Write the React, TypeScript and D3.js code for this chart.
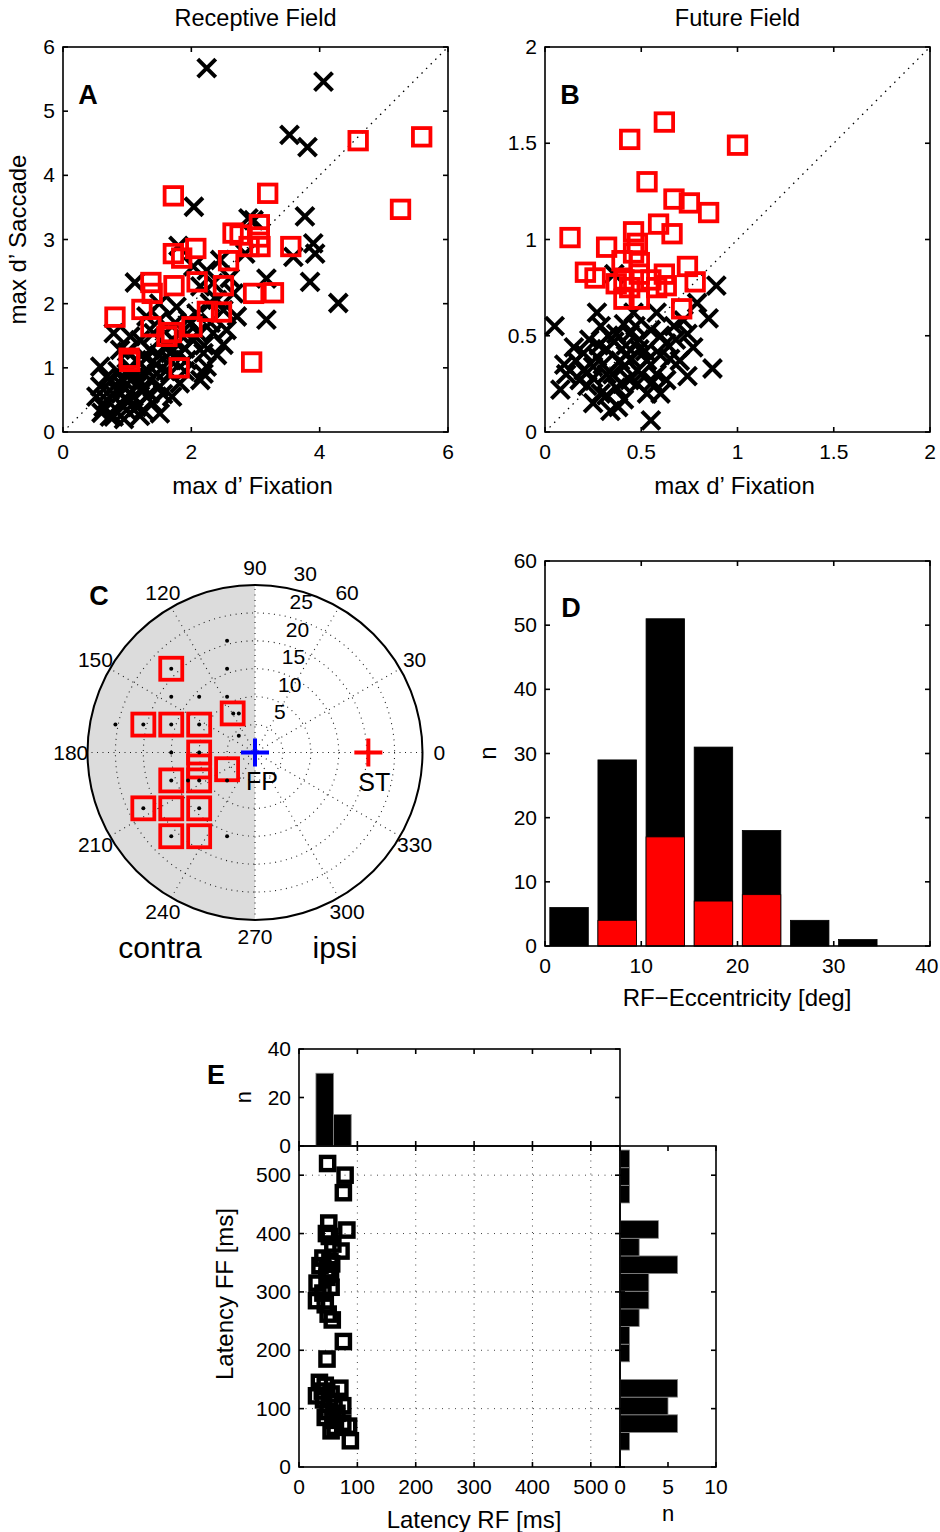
import React from "react";
import * as d3 from "d3";

const FONT = "'Liberation Sans', Arial, Helvetica, sans-serif";

// ---------- Panel A: Receptive Field (max d' Fixation vs max d' Saccade)
const rfSig: [number, number][] = [
  [4.6, 4.54], [5.59, 4.6], [5.26, 3.47], [1.72, 3.68], [3.19, 3.72], [2.65, 3.1], [2.76, 3.07],
  [3.06, 3.23], [3.06, 3.04], [3.07, 2.89], [2.9, 2.89], [3.55, 2.89], [1.72, 2.78], [1.85, 2.71],
  [2.07, 2.86], [2.58, 2.67], [1.37, 2.33], [1.39, 2.16], [1.73, 2.28], [2.09, 2.34], [2.5, 2.28],
  [2.97, 2.16], [3.28, 2.17], [0.81, 1.79], [1.23, 1.91], [1.37, 1.64], [1.62, 1.49], [1.69, 1.55],
  [2.01, 1.64], [2.25, 1.88], [2.47, 1.87], [1.03, 1.15], [1.04, 1.1], [1.81, 1.0], [2.94, 1.09],
];
const rfNonSig: [number, number][] = [
  [2.24, 5.67], [4.06, 5.46], [3.53, 4.63], [3.81, 4.44], [2.04, 3.51], [3.77, 3.36], [3.9, 2.94],
  [3.93, 2.78], [3.59, 2.73], [3.85, 2.34], [4.29, 2.01], [3.17, 2.39], [3.17, 1.75], [2.97, 3.3],
  [1.12, 2.33], [1.8, 2.9], [2.24, 2.52], [2.71, 1.8], [2.5, 1.36], [2.24, 1.02], [1.82, 0.76],
  [1.51, 0.29], [0.79, 0.24], [0.63, 0.39], [0.58, 1.02], [0.99, 0.91], [1.25, 0.65], [0.89, 0.45],
  [0.73, 0.65], [1.15, 0.39], [1.36, 1.28], [1.67, 1.23], [2.03, 1.43], [2.19, 0.91], [1.46, 0.91],
  [1.77, 1.95], [2.14, 2.27], [2.4, 2.06], [2.55, 1.59], [1.93, 1.53], [1.56, 0.59], [1.04, 0.6],
  [0.52, 0.55], [1.3, 0.97], [0.79, 1.54], [0.89, 1.28], [1.2, 1.43], [1.51, 1.75], [2.34, 2.32],
  [2.66, 2.16], [2.84, 2.78], [2.89, 3.33], [2.08, 1.85], [2.34, 1.54], [1.93, 1.12], [1.67, 0.91],
  [0.99, 0.34], [0.68, 0.86], [1.15, 1.12], [1.36, 0.81], [0.73, 0.24], [1.51, 0.71], [1.15, 0.71],
  [0.84, 0.65], [0.99, 0.49], [0.58, 0.71], [1.72, 1.43], [1.41, 1.54], [2.14, 0.81], [0.94, 0.81],
  [1.25, 0.34], [0.68, 0.5], [1.67, 1.12], [2.19, 1.23], [1.05, 1.49], [1.82, 1.53], [2.29, 2.01],
  [2.45, 2.68], [2.03, 2.58], [0.85, 0.95], [1.1, 0.55], [1.3, 1.15], [1.45, 1.05], [1.6, 1.35],
  [1.9, 1.3], [2.0, 1.7], [2.3, 1.7], [1.1, 0.85], [0.95, 0.7], [1.2, 0.25], [1.4, 0.45], [1.7, 0.55],
  [1.9, 0.95], [1.0, 1.25], [0.75, 0.8], [0.9, 0.6], [1.05, 1.0], [1.2, 0.8], [1.35, 0.6], [1.5, 1.2],
  [1.6, 0.95], [1.8, 1.2], [1.95, 1.75], [2.1, 1.55], [2.2, 1.35], [2.4, 1.2], [1.3, 1.8], [1.5, 2.0],
  [0.6, 0.3], [0.95, 0.2], [1.75, 1.7], [2.6, 2.4], [2.5, 1.9],
];
const rfTicksX = [0, 2, 4, 6];
const rfTicksY = [0, 1, 2, 3, 4, 5, 6];

// ---------- Panel B: Future Field
const ffSig: [number, number][] = [
  [0.44, 1.52], [0.62, 1.61], [1.0, 1.49], [0.53, 1.3], [0.67, 1.21], [0.75, 1.19], [0.85, 1.14],
  [0.13, 1.01], [0.59, 1.08], [0.66, 1.03], [0.46, 1.04], [0.32, 0.96], [0.48, 0.98], [0.21, 0.83],
  [0.26, 0.8], [0.4, 0.89], [0.46, 0.93], [0.49, 0.88], [0.41, 0.79], [0.49, 0.82], [0.62, 0.82],
  [0.74, 0.86], [0.78, 0.78], [0.58, 0.75], [0.41, 0.69], [0.49, 0.69], [0.71, 0.64], [0.63, 0.76],
  [0.37, 0.77], [0.55, 0.79], [0.44, 0.75],
];
const ffNonSig: [number, number][] = [
  [0.89, 0.76], [0.85, 0.59], [0.87, 0.33], [0.55, 0.06], [0.05, 0.55], [0.27, 0.62], [0.79, 0.67],
  [0.15, 0.44], [0.1, 0.35], [0.23, 0.48], [0.34, 0.11], [0.6, 0.2], [0.18, 0.27], [0.29, 0.2],
  [0.41, 0.34], [0.49, 0.43], [0.55, 0.53], [0.63, 0.46], [0.7, 0.37], [0.74, 0.51], [0.44, 0.51],
  [0.32, 0.43], [0.25, 0.34], [0.37, 0.23], [0.48, 0.25], [0.58, 0.3], [0.63, 0.27], [0.22, 0.24],
  [0.11, 0.3], [0.32, 0.3], [0.42, 0.45], [0.53, 0.37], [0.65, 0.38], [0.37, 0.51], [0.46, 0.62],
  [0.58, 0.62], [0.67, 0.55], [0.16, 0.37], [0.27, 0.39], [0.39, 0.37], [0.48, 0.32], [0.53, 0.2],
  [0.32, 0.19], [0.25, 0.28], [0.36, 0.47], [0.49, 0.48], [0.6, 0.4], [0.68, 0.48], [0.77, 0.44],
  [0.29, 0.55], [0.41, 0.56], [0.72, 0.58], [0.2, 0.41], [0.44, 0.27], [0.56, 0.26], [0.41, 0.17],
  [0.08, 0.22], [0.74, 0.29], [0.36, 0.82], [0.3, 0.35], [0.35, 0.3], [0.4, 0.25], [0.45, 0.38],
  [0.28, 0.45], [0.52, 0.42], [0.2, 0.32], [0.33, 0.5], [0.47, 0.55], [0.6, 0.5], [0.42, 0.4],
  [0.25, 0.15], [0.38, 0.13], [0.5, 0.3],
];
const ffTicks = [0, 0.5, 1, 1.5, 2];

// ---------- Panel C: RF positions (deg, x = horizontal, y = vertical)
const rfGridPos: [number, number][] = [
  [-5, 20], [-15, 15], [-5, 15], [-15, 10], [-10, 10], [-5, 10], [-3.9, 7], [-2.9, 7], [-2.9, 3],
  [-25, 5], [-20, 5], [-15, 5], [-10, 5], [-15, 0], [-10, 0], [-15, -5], [-12, -5], [-10, -5],
  [-5, -5], [-20, -10], [-10, -10], [-15, -15], [-5, -15],
];
const rfFFPos: [number, number][] = [
  [-15, 15], [-20, 5], [-15, 5], [-10, 5], [-4, 7], [-10, 0], [-10, -2.5], [-10, -5], [-15, -5],
  [-5, -3], [-20, -10], [-15, -10], [-10, -10], [-15, -15], [-10, -15],
];
const fixPos: [number, number] = [0, 0];
const targetPos: [number, number] = [20.3, 0];
const ringVals = [5, 10, 15, 20, 25, 30];
const spokeAngles = [30, 60, 90, 120, 150, 180];

// ---------- Panel D: RF eccentricity histogram
const eccCenters = [2.5, 7.5, 12.5, 17.5, 22.5, 27.5, 32.5];
const eccAll = [6, 29, 51, 31, 18, 4, 1];
const eccFF = [0, 4, 17, 7, 8, 0, 0];
const eccTicksX = [0, 10, 20, 30, 40];
const eccTicksY = [0, 10, 20, 30, 40, 50, 60];

// ---------- Panel E: latencies (ms)
const latRF = [
  49, 79, 76, 51, 82, 47, 52, 58, 72, 41, 53, 36, 56, 48, 54, 48, 31, 55, 41, 30, 45, 50, 57, 76, 48,
  35, 45, 40, 55, 70, 30, 42, 60, 75, 50, 65, 45, 58, 75, 62, 85, 55, 88,
];
const latFF = [
  520, 500, 470, 418, 406, 400, 395, 382, 370, 358, 352, 345, 348, 338, 334, 325, 315, 308, 298, 285,
  278, 262, 252, 215, 185, 145, 140, 130, 125, 135, 122, 115, 110, 105, 95, 92, 85, 80, 75, 68, 70,
  62, 45,
];
const latTicks = [0, 100, 200, 300, 400, 500];
const topHistTicks = [0, 20, 40];
const sideHistTicks = [0, 5, 10];
const latBinStart = 29;
const latBinWidth = 30.24;
const latBinsFF = 17;
const latBinsRF = 2;

type Sc = d3.ScaleLinear<number, number>;

const TICK_FS = 21;
const LAB_FS = 24;
const PAGE_W = 940;

function Box({ xs, ys, xTicks, yTicks, xLabels = true, yLabels = true, fs = TICK_FS }: {
  xs: Sc; ys: Sc; xTicks: number[]; yTicks: number[]; xLabels?: boolean; yLabels?: boolean; fs?: number;
}) {
  const [x0, x1] = xs.range();
  const [yb, yt] = ys.range();
  const tl = 5;
  return (
    <g>
      <rect x={x0} y={yt} width={x1 - x0} height={yb - yt} fill="none" stroke="#000" strokeWidth={1.6} />
      {xTicks.map((t, i) => {
        const s = String(t);
        const half = s.length * fs * 0.556 * 0.5;
        const lx = Math.min(xs(t), PAGE_W - 1.5 - half);
        return (
          <g key={"x" + i}>
            <line x1={xs(t)} x2={xs(t)} y1={yb} y2={yb - tl} stroke="#000" strokeWidth={1.6} />
            <line x1={xs(t)} x2={xs(t)} y1={yt} y2={yt + tl} stroke="#000" strokeWidth={1.6} />
            {xLabels && (
              <text x={lx} y={yb + 27} textAnchor="middle" fontSize={fs} fontFamily={FONT}>{s}</text>
            )}
          </g>
        );
      })}
      {yTicks.map((t, i) => (
        <g key={"y" + i}>
          <line x1={x0} x2={x0 + tl} y1={ys(t)} y2={ys(t)} stroke="#000" strokeWidth={1.6} />
          <line x1={x1} x2={x1 - tl} y1={ys(t)} y2={ys(t)} stroke="#000" strokeWidth={1.6} />
          {yLabels && (
            <text x={x0 - 8} y={ys(t) + 7} textAnchor="end" fontSize={fs} fontFamily={FONT}>{String(t)}</text>
          )}
        </g>
      ))}
    </g>
  );
}

function XMark({ x, y, s = 9 }: { x: number; y: number; s?: number }) {
  return (
    <path d={`M${x - s},${y - s}L${x + s},${y + s}M${x - s},${y + s}L${x + s},${y - s}`} stroke="#000" strokeWidth={4} fill="none" />
  );
}
function Sq({ x, y, s = 8.75, c = "#ff0000", w = 3.8 }: { x: number; y: number; s?: number; c?: string; w?: number }) {
  return <rect x={x - s} y={y - s} width={2 * s} height={2 * s} fill="none" stroke={c} strokeWidth={w} />;
}

function Scatter({ xs, ys, sig, non, label, title, tickX, tickY, xlabel, ylabel }: any) {
  const [x0, x1] = xs.range();
  const [yb, yt] = ys.range();
  const d = xs.domain();
  return (
    <g>
      <text x={(x0 + x1) / 2} y={26} textAnchor="middle" fontSize={23.5} fontFamily={FONT}>{title}</text>
      <line x1={xs(d[0])} y1={ys(d[0])} x2={xs(d[1])} y2={ys(d[1])} stroke="#000" strokeWidth={1.3} strokeDasharray="1.5,5" />
      {non.map((p: [number, number], i: number) => <XMark key={"n" + i} x={xs(p[0])} y={ys(p[1])} />)}
      {sig.map((p: [number, number], i: number) => <Sq key={"s" + i} x={xs(p[0])} y={ys(p[1])} />)}
      <Box xs={xs} ys={ys} xTicks={tickX} yTicks={tickY} />
      <text x={x0 + 25} y={yt + 57} textAnchor="middle" fontSize={27} fontWeight="bold" fontFamily={FONT}>{label}</text>
      <text x={(x0 + x1) / 2 - 3} y={494} textAnchor="middle" fontSize={LAB_FS} fontFamily={FONT}>{xlabel}</text>
      {ylabel && (
        <text transform={`translate(26,${(yb + yt) / 2}) rotate(-90)`} textAnchor="middle" fontSize={LAB_FS} fontFamily={FONT}>{ylabel}</text>
      )}
    </g>
  );
}

function Polar() {
  const cx = 255, cy = 752.5, R = 167.5, rmax = 30;
  const k = R / rmax;
  const px = (p: [number, number]) => cx + p[0] * k;
  const py = (p: [number, number]) => cy - p[1] * k;
  const rad = (a: number) => (a * Math.PI) / 180;
  const c82 = Math.cos(rad(82)), s82 = Math.sin(rad(82));
  const angleLabels: { a: number; t: string }[] = [];
  spokeAngles.forEach((a, i) => {
    angleLabels.push({ a, t: String(a) });
    angleLabels.push({ a: a + 180, t: i === spokeAngles.length - 1 ? "0" : String(a + 180) });
  });
  const dot = { stroke: "#222", strokeWidth: 1.1, strokeDasharray: "1,4.5", fill: "none" };
  return (
    <g fontFamily={FONT}>
      <path d={`M${cx},${cy - R} A${R},${R} 0 0 0 ${cx},${cy + R} Z`} fill="#dcdcdc" />
      {ringVals.slice(0, -1).map((r) => (
        <circle key={r} cx={cx} cy={cy} r={r * k} {...dot} />
      ))}
      {spokeAngles.map((a) => (
        <line key={a} x1={cx - R * Math.cos(rad(a))} y1={cy + R * Math.sin(rad(a))} x2={cx + R * Math.cos(rad(a))} y2={cy - R * Math.sin(rad(a))} {...dot} />
      ))}
      <circle cx={cx} cy={cy} r={R} fill="none" stroke="#000" strokeWidth={2} />
      {ringVals.map((r) => (
        <text key={r} x={cx + (r + 0.25) * k * c82 + 15} y={cy - (r + 0.25) * k * s82 - 4} fontSize={21}>{String(r)}</text>
      ))}
      {angleLabels.map((l) => (
        <text key={l.t} x={cx + 1.1 * R * Math.cos(rad(l.a))} y={cy - 1.1 * R * Math.sin(rad(l.a)) + 7} textAnchor="middle" fontSize={21}>{l.t}</text>
      ))}
      {rfFFPos.map((p, i) => <Sq key={"q" + i} x={px(p)} y={py(p)} s={11} w={3.8} />)}
      {rfGridPos.map((p, i) => <circle key={"d" + i} cx={px(p)} cy={py(p)} r={2} fill="#000" />)}
      <path d={`M${px(fixPos) - 14},${py(fixPos)}H${px(fixPos) + 14}M${px(fixPos)},${py(fixPos) - 14}V${py(fixPos) + 14}`} stroke="#0000ff" strokeWidth={4} />
      <path d={`M${px(targetPos) - 14},${py(targetPos)}H${px(targetPos) + 14}M${px(targetPos)},${py(targetPos) - 14}V${py(targetPos) + 14}`} stroke="#ff0000" strokeWidth={4} />
      <text x={px(fixPos) + 7} y={py(fixPos) + 37} textAnchor="middle" fontSize={25}>FP</text>
      <text x={px(targetPos) + 6} y={py(targetPos) + 38} textAnchor="middle" fontSize={25}>ST</text>
      <text x={160} y={958} textAnchor="middle" fontSize={30}>contra</text>
      <text x={335} y={958} textAnchor="middle" fontSize={30}>ipsi</text>
      <text x={99} y={605} textAnchor="middle" fontSize={27} fontWeight="bold">C</text>
    </g>
  );
}

function EccHist() {
  const xs = d3.scaleLinear().domain([0, 40]).range([545, 930]);
  const ys = d3.scaleLinear().domain([0, 60]).range([946, 561]);
  const bw = 4;
  return (
    <g fontFamily={FONT}>
      {eccCenters.map((c, i) => (
        <rect key={"a" + i} x={xs(c - bw / 2)} y={ys(eccAll[i])} width={xs(c + bw / 2) - xs(c - bw / 2)} height={ys(0) - ys(eccAll[i])} fill="#000" stroke="#000" strokeWidth={0.8} />
      ))}
      {eccCenters.map((c, i) => eccFF[i] > 0 && (
        <rect key={"r" + i} x={xs(c - bw / 2)} y={ys(eccFF[i])} width={xs(c + bw / 2) - xs(c - bw / 2)} height={ys(0) - ys(eccFF[i])} fill="#ff0000" stroke="#000" strokeWidth={0.8} />
      ))}
      <Box xs={xs} ys={ys} xTicks={eccTicksX} yTicks={eccTicksY} />
      <text x={571} y={617} textAnchor="middle" fontSize={27} fontWeight="bold">D</text>
      <text x={737} y={1006} textAnchor="middle" fontSize={LAB_FS}>RF−Eccentricity [deg]</text>
      <text transform={`translate(496,753) rotate(-90)`} textAnchor="middle" fontSize={LAB_FS}>n</text>
    </g>
  );
}

function Latency() {
  const xs = d3.scaleLinear().domain([0, 550]).range([299, 620]);
  const ys = d3.scaleLinear().domain([0, 550]).range([1467, 1146]);
  const hy = d3.scaleLinear().domain([0, 40]).range([1146, 1049]);
  const hx = d3.scaleLinear().domain([0, 10]).range([620, 716]);
  const ffEdges = d3.range(latBinsFF + 1).map((i) => latBinStart + i * latBinWidth);
  const rfEdges = d3.range(latBinsRF + 1).map((i) => latBinStart + i * latBinWidth);
  const ffBins = d3.bin().domain([ffEdges[0], ffEdges[latBinsFF]]).thresholds(ffEdges.slice(1, -1))(latFF);
  const rfBins = d3.bin().domain([rfEdges[0], rfEdges[latBinsRF]]).thresholds(rfEdges.slice(1, -1))(latRF);
  const pts = latRF.map((v, i) => [v, latFF[i]] as [number, number]);
  const grid = latTicks.slice(1);
  const gdot = { stroke: "#444", strokeWidth: 1, strokeDasharray: "1,5.5" };
  return (
    <g fontFamily={FONT}>
      {grid.map((g) => <line key={"gx" + g} x1={xs(g)} x2={xs(g)} y1={1467} y2={1146} {...gdot} />)}
      {grid.map((g) => <line key={"gy" + g} y1={ys(g)} y2={ys(g)} x1={299} x2={620} {...gdot} />)}
      {pts.map((p, i) => <Sq key={i} x={xs(p[0])} y={ys(p[1])} s={6.6} c="#000" w={4.4} />)}
      <Box xs={xs} ys={ys} xTicks={latTicks} yTicks={latTicks} />
      {rfBins.map((b, i) => b.length > 0 && (
        <rect key={"t" + i} x={xs(b.x0!)} y={hy(b.length)} width={xs(b.x1!) - xs(b.x0!)} height={hy(0) - hy(b.length)} fill="#000" stroke="#888" strokeWidth={0.8} />
      ))}
      <Box xs={xs} ys={hy} xTicks={latTicks} yTicks={topHistTicks} xLabels={false} />
      {ffBins.map((b, i) => b.length > 0 && (
        <rect key={"s" + i} x={hx(0)} y={ys(b.x1!)} width={hx(b.length) - hx(0)} height={ys(b.x0!) - ys(b.x1!)} fill="#000" stroke="#888" strokeWidth={0.8} />
      ))}
      <Box xs={hx} ys={ys} xTicks={sideHistTicks} yTicks={latTicks} yLabels={false} />
      <text x={216} y={1084} textAnchor="middle" fontSize={27} fontWeight="bold">E</text>
      <text transform={`translate(251,1097) rotate(-90)`} textAnchor="middle" fontSize={22}>n</text>
      <text transform={`translate(233,1294) rotate(-90)`} textAnchor="middle" fontSize={LAB_FS}>Latency FF [ms]</text>
      <text x={474} y={1528} textAnchor="middle" fontSize={LAB_FS}>Latency RF [ms]</text>
      <text x={668} y={1521} textAnchor="middle" fontSize={22}>n</text>
    </g>
  );
}

export default function App() {
  const axs = d3.scaleLinear().domain([0, 6]).range([63, 448]);
  const ays = d3.scaleLinear().domain([0, 6]).range([432, 47]);
  const bxs = d3.scaleLinear().domain([0, 2]).range([545, 930]);
  const bys = d3.scaleLinear().domain([0, 2]).range([432, 47]);
  return (
    <svg width={940} height={1532} style={{ position: "absolute", left: 0, top: 0, background: "#fff" }} fontFamily={FONT}>
      <rect x={0} y={0} width={940} height={1532} fill="#fff" />
      <Scatter xs={axs} ys={ays} sig={rfSig} non={rfNonSig} label="A" title="Receptive Field"
        tickX={rfTicksX} tickY={rfTicksY} xlabel="max d’ Fixation" ylabel="max d’ Saccade" />
      <Scatter xs={bxs} ys={bys} sig={ffSig} non={ffNonSig} label="B" title="Future Field"
        tickX={ffTicks} tickY={ffTicks} xlabel="max d’ Fixation" />
      <Polar />
      <EccHist />
      <Latency />
    </svg>
  );
}
